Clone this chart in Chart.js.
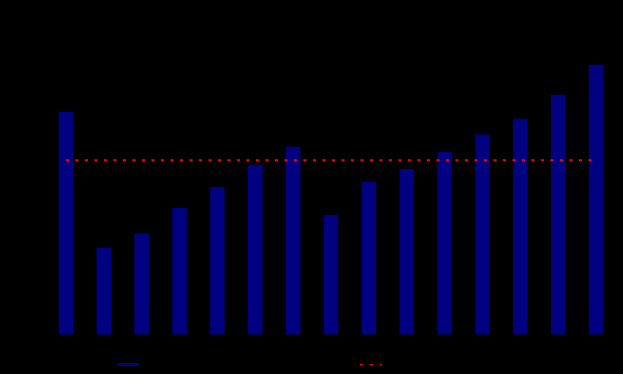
<!DOCTYPE html>
<html>
<head>
<meta charset="utf-8">
<script src="https://cdn.jsdelivr.net/npm/chart.js@4.4.1/dist/chart.umd.min.js"></script>
<style>
    html, body { margin: 0; padding: 0; background: #000; }
    #wrap { width: 623px; height: 374px; }
</style>
</head>
<body>
<div id="wrap"><canvas id="chart01"></canvas></div>
<script>
const years = ['2009', '2010', '2011', '2012', '2013', '2014', '2015', '2016',
               '2017', '2018', '2019', '2020', '2021', '2022', '2023'];
const sales = [74.3, 29.0, 33.9, 42.3, 49.3, 56.7, 62.7, 40.0, 51.0, 55.3, 61.0, 66.8, 72.0, 80.0, 90.0];
const average = [58.2, 58.2, 58.2, 58.2, 58.2, 58.2, 58.2, 58.2, 58.2, 58.2, 58.2, 58.2, 58.2, 58.2, 58.2];

// the reference draws all of its text in black on the black page
const textColor = '#000';

const bars = {
    type: 'bar',
    label: 'Annual sales per year (in million units)',
    data: sales,
    backgroundColor: '#000080',
    borderWidth: 0,
    pointStyle: 'rect',
    barPercentage: 0.383,
    categoryPercentage: 1,
    order: 1
};

const mean = {
    type: 'line',
    label: 'Average for all years',
    data: average,
    borderColor: '#ff0000',
    backgroundColor: 'transparent',
    borderWidth: 2,
    borderDash: [3, 6.5],
    pointRadius: 0,
    pointStyle: 'line',
    order: 0
};

const plugin = {
    beforeInit(chart) {
        // fixed legend height so the row sits right at the bottom edge
        const origFit = chart.legend.fit;
        chart.legend.fit = function fit() {
            origFit.bind(chart.legend)();
            this.height = 27.5;
        }
    }
};

function legendLabels(chart) {
    const items = Chart.defaults.plugins.legend.labels.generateLabels(chart);
    items.forEach(item => {
        if (item.pointStyle === 'line') {
            item.lineWidth = 1;
            item.lineDash = [3, 7];
        }
    });
    return items;
}

new Chart(document.getElementById('chart01'), {
    data: {
        labels: years,
        datasets: [bars, mean]
    },
    options: {
        responsive: true,
        maintainAspectRatio: false,
        animation: false,
        layout: {
            padding: {top: 0, left: 0, right: 8, bottom: 0}
        },
        plugins: {
            title: {
                display: true,
                text: 'Annual sales and average',
                color: textColor,
                font: {size: 14},
                padding: {top: 8, bottom: 10}
            },
            legend: {
                position: 'bottom',
                labels: {
                    color: textColor,
                    font: {size: 12},
                    padding: 12,
                    usePointStyle: true,
                    pointStyleWidth: 22,
                    boxHeight: 3,
                    generateLabels: legendLabels,
                    sort: (a, b) => a.datasetIndex - b.datasetIndex
                }
            },
            tooltip: {enabled: false}
        },
        scales: {
            x: {
                grid: {display: false},
                border: {display: false},
                ticks: {color: textColor, font: {size: 10}},
                afterFit(scale) { scale.height = 11.5; }
            },
            y: {
                min: 0,
                max: 100,
                grid: {color: '#000'},
                border: {display: false},
                ticks: {color: textColor, font: {size: 10}},
                title: {display: true, text: 'Sales', color: textColor, font: {size: 11}},
                afterFit(scale) { scale.width = 47; }
            }
        }
    },
    plugins: [plugin]
});
</script>
</body>
</html>
